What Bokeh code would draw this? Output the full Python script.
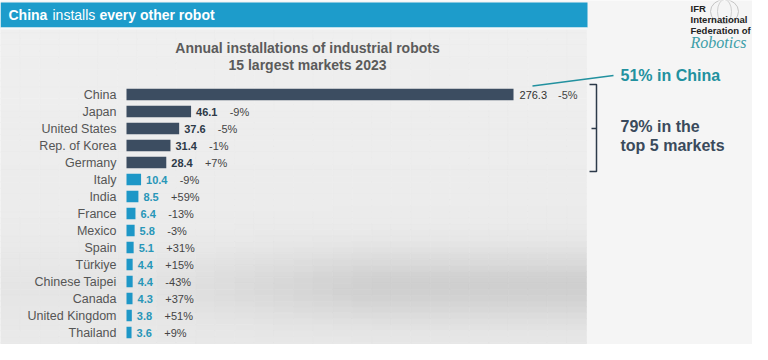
import math
from bokeh.plotting import figure
from bokeh.models import Range1d, ColumnDataSource
from bokeh.core.properties import value
from bokeh.embed import file_html
from bokeh.resources import INLINE

# ---------------- data ----------------
countries = ["China", "Japan", "United States", "Rep. of Korea", "Germany",
             "Italy", "India", "France", "Mexico", "Spain", "Türkiye",
             "Chinese Taipei", "Canada", "United Kingdom", "Thailand"]
installs = [276.3, 46.1, 37.6, 31.4, 28.4, 10.4, 8.5, 6.4, 5.8, 5.1,
            4.4, 4.4, 4.3, 3.8, 3.6]
growth = ["-5%", "-9%", "-5%", "-1%", "+7%", "-9%", "+59%", "-13%", "-3%",
          "+31%", "+15%", "-43%", "+37%", "+51%", "+9%"]
top_n = 5
header_parts = ["China", "installs", "every other robot"]
title_lines = ["Annual installations of industrial robots", "15 largest markets 2023"]
china_note = "51% in China"
top5_note = ["79% in the", "top 5 markets"]
logo_lines = ["IFR", "International", "Federation of"]
logo_script = "Robotics"

# ---------------- geometry helpers (reference pixel -> data) ----------------
PXU = 1.4007   # pixels per thousand units
ROW = 17.0     # pixels per row
X0, Y0 = 126.0, 94.0
W, H = 752, 344


def X(px):
    return (px - X0) / PXU


def Y(py):
    return (py - Y0) / ROW


FONT = value("Liberation Sans")
DARK = "#3c4d61"
LIGHT = "#1d97c7"

p = figure(width=W, height=H,
           x_range=Range1d(X(0), X(W)), y_range=Range1d(Y(H), Y(0)),
           output_backend="svg", toolbar_location=None, min_border=0,
           x_axis_location=None, y_axis_location=None)
p.grid.visible = False
p.outline_line_color = None
p.background_fill_color = "#f5f5f5"
p.border_fill_color = "#f5f5f5"

# ---------------- panel background gradient ----------------
gl, gr, gt, gb, gc = [], [], [], [], []
nx, ny = 30, 56
for i in range(nx):
    x1 = 586 * i / nx
    x2 = 586 * (i + 1) / nx
    xm = (x1 + x2) / 2
    for j in range(ny):
        y1 = 27 + 333 * j / ny
        y2 = 27 + 333 * (j + 1) / ny
        ym = (y1 + y2) / 2
        base = 239 - 6 * (ym - 27) / 333
        d = min(max((xm - 130) / 240, 0), 1)
        dark = (5 + 22 * d) * math.exp(-((ym - 286) / 36) ** 2)
        g = int(round(base - dark))
        gl.append(X(x1)); gr.append(X(x2)); gt.append(Y(y1)); gb.append(Y(y2))
        gc.append("#%02x%02x%02x" % (g, g, g))
p.quad(left=gl, right=gr, top=gt, bottom=gb, fill_color=gc, line_color=gc, line_width=0.6)

# header band
p.quad(left=[X(0)], right=[X(587)], top=[Y(2)], bottom=[Y(27)],
       fill_color="#1d9ccb", line_color=None)
p.quad(left=[X(0)], right=[X(587)], top=[Y(27)], bottom=[Y(29)],
       fill_color="#f4f8fa", line_color=None)

# header texts
hx = [8, 52, 99]
hstyle = ["bold", "normal", "bold"]
for t, xx, st in zip(header_parts, hx, hstyle):
    p.text(x=[X(xx)], y=[Y(14)], text=[t], text_font=FONT, text_font_size="14px",
           text_font_style=st, text_color="white", text_baseline="middle",
           text_align="left")

# chart title
for k, t in enumerate(title_lines):
    p.text(x=[X(307)], y=[Y(47 + 17.5 * k)], text=[t], text_font=FONT,
           text_font_size="14px", text_font_style="bold", text_color="#5b5b5b",
           text_baseline="middle", text_align="center")

# ---------------- bars ----------------
rows = list(range(len(countries)))
colors = [DARK if i < top_n else LIGHT for i in rows]
vlabels = ["%.1f" % v for v in installs]
vcolors = ["#2e3a48" if i < top_n else "#2896b8" for i in rows]
pct_off = [5 + len(s) * 5.9 + 10 for s in vlabels]

src = ColumnDataSource(dict(y=rows, v=installs, c=colors, name=countries,
                            vl=vlabels, vc=vcolors, g=growth, po=pct_off))
p.hbar(y="y", left=0, right="v", height=0.68, fill_color="c", line_color=None, source=src)

p.text(x=X(116), y="y", text="name", source=src, text_font=FONT,
       text_font_size="12.5px", text_color="#555555", text_baseline="middle",
       text_align="right")

first = ColumnDataSource(dict(y=rows[:1], v=installs[:1], vl=vlabels[:1],
                              g=growth[:1], po=pct_off[:1]))
rest = ColumnDataSource(dict(y=rows[1:], v=installs[1:], vl=vlabels[1:],
                             vc=vcolors[1:], g=growth[1:], po=pct_off[1:]))
p.text(x="v", y="y", text="vl", source=first, x_offset=6, text_font=FONT,
       text_font_size="11px", text_color="#333333", text_baseline="middle")
p.text(x="v", y="y", text="vl", source=rest, x_offset=5, text_font=FONT,
       text_font_size="11px", text_font_style="bold", text_color="vc",
       text_baseline="middle")
p.text(x="v", y="y", text="g", source=src, x_offset="po", text_font=FONT,
       text_font_size="11px", text_color="#444444", text_baseline="middle")

# ---------------- annotations ----------------
TEAL = "#22919f"
p.line(x=[X(532), X(613)], y=[Y(85.5), Y(75)], line_color=TEAL, line_width=1.5)
p.text(x=[X(620)], y=[Y(75)], text=[china_note], text_font=FONT, text_font_size="16px",
       text_font_style="bold", text_color=TEAL, text_baseline="middle")

BR = "#2c3a4a"
p.line(x=[X(589), X(596), X(596), X(589)], y=[Y(84), Y(84), Y(171), Y(171)],
       line_color=BR, line_width=1.5)
p.line(x=[X(591), X(596)], y=[Y(128), Y(128)], line_color=BR, line_width=1.5)
for k, t in enumerate(top5_note):
    p.text(x=[X(620)], y=[Y(126 + 19 * k)], text=[t], text_font=FONT,
           text_font_size="16px", text_font_style="bold", text_color="#3a4a5c",
           text_baseline="middle")

# ---------------- logo ----------------
LX = 690
p.ellipse(x=[X(LX + 34)], y=[Y(11)], width=[28 / PXU], height=[24 / ROW],
          fill_color=None, line_color="#c4c4c4", line_width=1)
p.ellipse(x=[X(LX + 34)], y=[Y(11)], width=[14 / PXU], height=[24 / ROW],
          fill_color=None, line_color="#cfcfcf", line_width=1)
for k, t in enumerate(logo_lines):
    p.text(x=[X(LX)], y=[Y(8 + 11 * k)], text=[t], text_font=FONT,
           text_font_size="9.5px", text_font_style="bold", text_color="#222222",
           text_baseline="middle")
p.text(x=[X(LX)], y=[Y(42)], text=[logo_script], text_font=value("Liberation Serif"),
       text_font_size="16px", text_font_style="italic", text_color="#3c9ea8",
       text_baseline="middle")

open("out.html", "w").write(file_html(p, INLINE))
